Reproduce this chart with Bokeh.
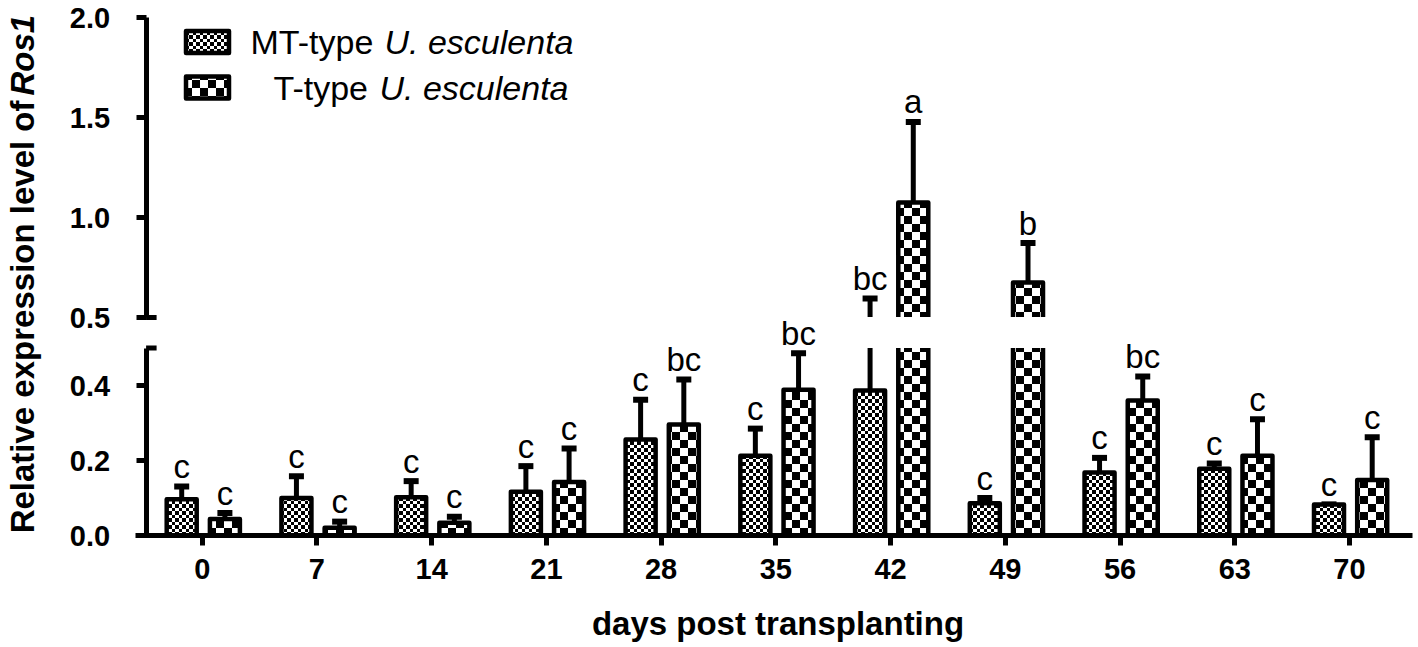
import zlib, struct, base64
import numpy as np
from math import pi
from bokeh.plotting import figure
from bokeh.models import (ColumnDataSource, LinearAxis, Range1d, FixedTicker,
                          PrintfTickFormatter, Label, ImageURLTexture)
from bokeh.core.properties import value, field
from bokeh.embed import file_html
from bokeh.resources import INLINE

# ---------------- data ----------------
days = [0, 7, 14, 21, 28, 35, 42, 49, 56, 63, 70]
mt_mean = [0.097, 0.100, 0.102, 0.117, 0.256, 0.213, 0.387, 0.086, 0.168, 0.178, 0.083]
mt_err = [0.034, 0.058, 0.043, 0.068, 0.106, 0.072, 0.208, 0.014, 0.039, 0.014, 0.000]
t_mean = [0.044, 0.021, 0.034, 0.143, 0.296, 0.389, 1.075, 0.675, 0.360, 0.213, 0.148]
t_err = [0.016, 0.016, 0.016, 0.089, 0.120, 0.097, 0.403, 0.197, 0.064, 0.097, 0.114]
mt_letters = ["c", "c", "c", "c", "c", "c", "bc", "c", "c", "c", "c"]
t_letters = ["c", "c", "c", "c", "bc", "bc", "a", "b", "bc", "c", "c"]
y_low_ticks = [0.0, 0.2, 0.4]
y_up_ticks = [0.5, 1.0, 1.5, 2.0]
series_names = ["MT-type", "T-type"]
species = "U. esculenta"
x_title = "days post transplanting"
y_title = "Relative expression level of"
y_title_gene = "Ros1"

# ---------------- layout constants (canvas pixels -> data) ----------------
W, H = 1418, 647
SX = 16.39          # px per day
DAY0_PX = 201.7     # canvas x of day 0
def fx(px):
    return (px - DAY0_PX) / SX
def flo(py):        # lower segment scale
    return (535.0 - py) / 375.0
def fup(py):        # upper segment scale
    return 0.5 + (317.0 - py) / 200.0

BRK = 0.5
LO_CLIP = 0.515
UP_BASE = 0.45
YAX = fx(145.6)
FONT = "Liberation Sans"
BASE_SHIFT = 11     # anchor sits this far above the drawn baseline

# ---------------- checker textures ----------------
def checker_uri(n, a):
    raw = b""
    for yy in range(n):
        row = b"\x00"
        for xx in range(n):
            on = (xx < a) == (yy < a)
            row += bytes([0, 0, 0, 255]) if on else bytes([0, 0, 0, 0])
        raw += row
    def chunk(t, data):
        c = struct.pack(">I", len(data)) + t + data
        return c + struct.pack(">I", zlib.crc32(t + data) & 0xffffffff)
    png = (b"\x89PNG\r\n\x1a\n"
           + chunk(b"IHDR", struct.pack(">IIBBBBB", n, n, 8, 6, 0, 0, 0))
           + chunk(b"IDAT", zlib.compress(raw))
           + chunk(b"IEND", b""))
    return "data:image/png;base64," + base64.b64encode(png).decode()

tex_fine = ImageURLTexture(url=checker_uri(7, 4))
tex_coarse = ImageURLTexture(url=checker_uri(16, 8))
TEXTURES = {"fine": tex_fine, "coarse": tex_coarse}

def bar_style():
    return dict(fill_color="white", line_color="black", line_width=4.5,
                line_join="round", hatch_pattern=field("pat"),
                hatch_extra=TEXTURES, hatch_color="black")

p = figure(width=W, height=H,
           x_range=Range1d(fx(0), fx(W)),
           y_range=Range1d(flo(H), flo(0)),
           x_axis_location=None, y_axis_location=None,
           toolbar_location=None, output_backend="svg",
           min_border=0, min_border_left=0, min_border_right=0,
           min_border_top=0, min_border_bottom=0)
p.extra_y_ranges = {"up": Range1d(fup(H), fup(0))}
p.outline_line_color = None
p.grid.visible = False
p.background_fill_color = "white"
p.border_fill_color = "white"

BW = 30.0 / SX
series = [
    (np.array(mt_mean), np.array(mt_err), -20.5 / SX, "fine", mt_letters),
    (np.array(t_mean), np.array(t_err), 22.7 / SX, "coarse", t_letters),
]
d = np.array(days, dtype=float)

letter_sources = []
for mean, err, off, pat, letters in series:
    x = d + off
    top = mean + err
    # error stems
    m = mean < BRK
    p.segment(x0=x[m], y0=mean[m], x1=x[m], y1=np.minimum(top[m], LO_CLIP),
              line_color="black", line_width=5)
    m = top > BRK
    p.segment(x0=x[m], y0=np.maximum(mean[m], UP_BASE), x1=x[m], y1=top[m],
              line_color="black", line_width=5, y_range_name="up")
    # caps
    m = top <= BRK
    p.scatter(x[m], top[m], marker="dash", size=15, line_width=6, line_color="black")
    m = top > BRK
    p.scatter(x[m], top[m], marker="dash", size=15, line_width=6, line_color="black",
              y_range_name="up")
    # bars, lower segment
    src = ColumnDataSource(dict(x=x, top=np.minimum(mean, LO_CLIP), pat=[pat] * len(x)))
    p.vbar(x="x", top="top", bottom=0, width=BW, source=src, **bar_style())
    # bars, upper segment
    m = mean > BRK
    src = ColumnDataSource(dict(x=x[m], top=mean[m], pat=[pat] * int(m.sum())))
    p.vbar(x="x", top="top", bottom=UP_BASE, width=BW, source=src,
           y_range_name="up", **bar_style())
    letter_sources.append((x, top, np.array(letters)))

# white gap of the broken axis
p.quad(left=fx(150), right=fx(W), bottom=BRK, top=flo(316.5),
       fill_color="white", line_color=None)

# break marks
mk = 10.5 / SX
p.segment(x0=[YAX], y0=[BRK], x1=[YAX + mk], y1=[BRK], line_color="black", line_width=5)
p.segment(x0=[YAX], y0=[BRK], x1=[YAX + mk], y1=[BRK], line_color="black", line_width=5,
          y_range_name="up")

# significance letters (baseline ~9 px above the cap)
LET_OFF = -(9 + BASE_SHIFT)
for x, top, letters in letter_sources:
    m = top <= BRK
    p.text(x=x[m], y=top[m], text=letters[m], text_align="center",
           text_baseline="alphabetic", y_offset=LET_OFF, text_font=value(FONT),
           text_font_size="33px", text_color="black")
    m = top > BRK
    p.text(x=x[m], y=top[m], text=letters[m], text_align="center",
           text_baseline="alphabetic", y_offset=LET_OFF, text_font=value(FONT),
           text_font_size="33px", text_color="black", y_range_name="up")

# axes (placed inside the full-canvas frame)
def style_axis(ax, standoff):
    ax.axis_line_width = 5
    ax.axis_line_color = "black"
    ax.major_tick_line_width = 5
    ax.major_tick_line_color = "black"
    ax.major_tick_out = 10
    ax.major_tick_in = 0
    ax.minor_tick_line_color = None
    ax.major_label_text_font = FONT
    ax.major_label_text_font_size = "29px"
    ax.major_label_text_font_style = "bold"
    ax.major_label_text_color = "black"
    ax.major_label_standoff = standoff

ax_lo = LinearAxis(bounds=(0, BRK), ticker=FixedTicker(ticks=y_low_ticks),
                   formatter=PrintfTickFormatter(format="%.1f"), fixed_location=YAX)
ax_up = LinearAxis(y_range_name="up", bounds=(BRK, 2.0), ticker=FixedTicker(ticks=y_up_ticks),
                   formatter=PrintfTickFormatter(format="%.1f"), fixed_location=YAX)
for ax in (ax_lo, ax_up):
    style_axis(ax, 26)
    p.add_layout(ax, "left")

ax_x = LinearAxis(bounds=(fx(135), fx(1412)), ticker=FixedTicker(ticks=days), fixed_location=0)
style_axis(ax_x, 13)
p.add_layout(ax_x, "below")

# axis titles
p.add_layout(Label(x=fx(777.5), y=flo(634 - BASE_SHIFT), text=x_title, text_align="center",
                   text_baseline="alphabetic", text_font=FONT, text_font_size="33px",
                   text_font_style="bold", text_color="black"))
p.add_layout(Label(x=fx(33 - BASE_SHIFT), y=flo(100), text=y_title, angle=pi / 2,
                   text_align="right", text_baseline="alphabetic", text_font=FONT,
                   text_font_size="33px", text_font_style="bold", text_color="black"))
p.add_layout(Label(x=fx(33 - BASE_SHIFT), y=flo(95), text=y_title_gene, angle=pi / 2,
                   text_align="left", text_baseline="alphabetic", text_font=FONT,
                   text_font_size="33px", text_font_style="bold italic", text_color="black"))

# legend
for name, pat, sy, tx, ix in [(series_names[0], "fine", 41.5, 250, 384),
                              (series_names[1], "coarse", 87.0, 273, 379)]:
    src = ColumnDataSource(dict(x=[fx(207)], y=[fup(sy)], pat=[pat]))
    p.rect(x="x", y="y", width=43 / SX, height=22 / 200, source=src,
           y_range_name="up", **bar_style())
    ty = fup(sy + 11 - BASE_SHIFT)
    p.add_layout(Label(x=fx(tx), y=ty, text=name, y_range_name="up",
                       text_baseline="alphabetic", text_font=FONT, text_font_size="34px",
                       text_color="black"))
    p.add_layout(Label(x=fx(ix), y=ty, text=species, y_range_name="up",
                       text_baseline="alphabetic", text_font=FONT, text_font_size="34px",
                       text_font_style="italic", text_color="black"))

open("out.html", "w").write(file_html(p, INLINE))
